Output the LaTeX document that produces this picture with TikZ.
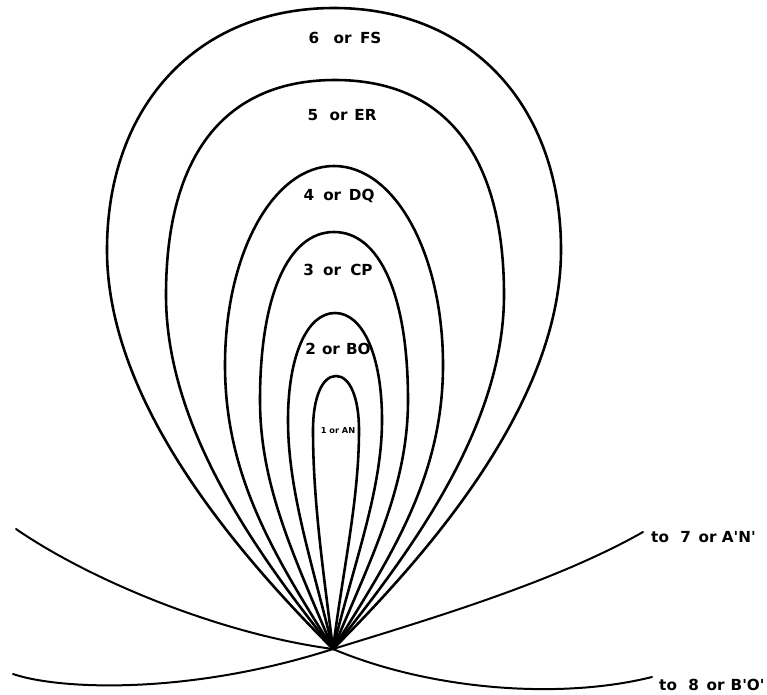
\documentclass[tikz,border=0pt]{standalone}
\usepackage{fontspec}
\setmainfont{DejaVu Sans}
\begin{document}
\begin{tikzpicture}[x=0.03cm,y=-0.03cm,
  loopline/.style={line width=2.2pt, line cap=round, line join=round},
  crossline/.style={line width=1.7pt, line cap=round},
  lbl/.style={font=\bfseries\fontsize{13}{13}\selectfont, anchor=base, inner sep=0pt},
  smalllbl/.style={font=\bfseries\fontsize{7}{7}\selectfont, anchor=base, inner sep=0pt},
  sidelbl/.style={font=\bfseries\fontsize{13}{13}\selectfont, anchor=base west, inner sep=0pt}]
\useasboundingbox (0,0) rectangle (767,694);
\coordinate (P) at (333,649);

% loop 6
\draw[loopline] (P) .. controls (233,549) and (107,400) .. (107,250)
  .. controls (107,105) and (198,8) .. (334,8)
  .. controls (470,8) and (561,105) .. (561,250)
  .. controls (561,400) and (433,549) .. (P);
% loop 5
\draw[loopline] (P) .. controls (253,549) and (166,425) .. (166,295)
  .. controls (166,155) and (225,80) .. (335,80)
  .. controls (445,80) and (504,155) .. (504,295)
  .. controls (504,425) and (413,549) .. (P);
% loop 4
\draw[loopline] (P) .. controls (273,554) and (225,475) .. (225,365)
  .. controls (225,254) and (273,166) .. (334,166)
  .. controls (395,166) and (443,254) .. (443,365)
  .. controls (443,475) and (393,554) .. (P);
% loop 3
\draw[loopline] (P) .. controls (293,554) and (260,485) .. (260,400)
  .. controls (260,296) and (288,232) .. (334,232)
  .. controls (380,232) and (408,296) .. (408,400)
  .. controls (408,485) and (373,554) .. (P);
% loop 2
\draw[loopline] (P) .. controls (311,559) and (288,490) .. (288,420)
  .. controls (288,356) and (307,313) .. (335,313)
  .. controls (363,313) and (382,356) .. (382,420)
  .. controls (382,490) and (355,559) .. (P);
% loop 1
\draw[loopline] (P) .. controls (323,569) and (313,500) .. (313,430)
  .. controls (313,398) and (322,376) .. (336,376)
  .. controls (350,376) and (359,398) .. (359,430)
  .. controls (359,500) and (343,569) .. (P);

% crossing curves
\coordinate (w7) at (13,674);
\coordinate (e7) at (643,532);
\coordinate (w8) at (16,529);
\coordinate (e8) at (652,677);
\draw[crossline] (w7) .. controls (60,690) and (190,695) .. (P)
  .. controls (430,619) and (555,582) .. (e7);
\draw[crossline] (w8) .. controls (90,580) and (220,634) .. (P)
  .. controls (430,690) and (560,700) .. (e8);

% labels
\node[lbl] (l6) at (345,43) {6\hspace{0.95em}or\hspace{0.55em}FS};
\node[lbl] (l5) at (342,120) {5\hspace{0.75em}or\hspace{0.45em}ER};
\node[lbl] (l4) at (339,200) {4\hspace{0.6em}or\hspace{0.5em}DQ};
\node[lbl] (l3) at (338,275) {3\hspace{0.6em}or\hspace{0.6em}CP};
\node[lbl] (l2) at (338,354) {2\hspace{0.4em}or\hspace{0.4em}BO};
\node[smalllbl] (l1) at (338,433) {1 or AN};
\node[sidelbl] (s7) at (651,542) {to\hspace{0.75em}7\hspace{0.5em}or\hspace{0.35em}A\textquotesingle N\textquotesingle};
\node[sidelbl] (s8) at (659,690) {to\hspace{0.75em}8\hspace{0.5em}or\hspace{0.4em}B\textquotesingle O\textquotesingle};
\end{tikzpicture}
\end{document}
